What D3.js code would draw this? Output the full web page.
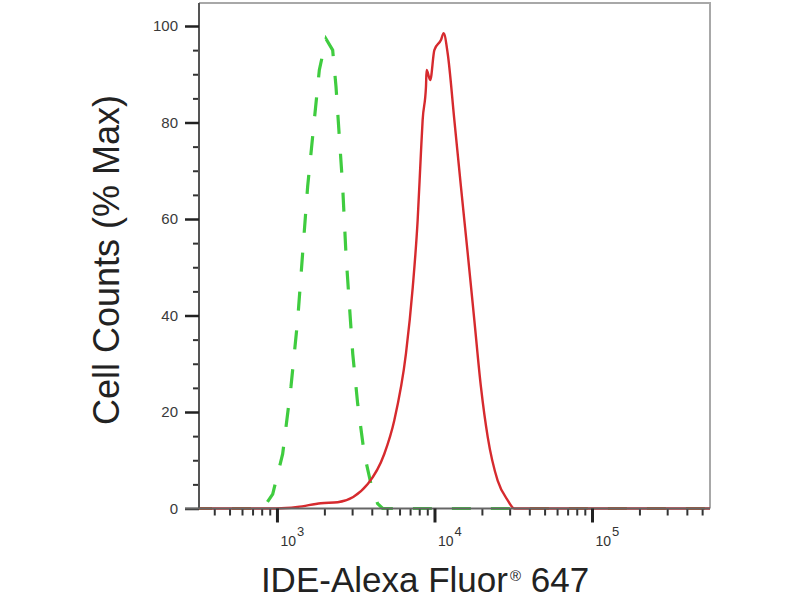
<!DOCTYPE html>
<html>
<head>
<meta charset="utf-8">
<script src="https://cdn.jsdelivr.net/npm/d3@7"></script>
<style>
  body { margin: 0; background: #fff; }
  svg { display: block; font-family: "Liberation Sans", Arial, sans-serif; }
</style>
</head>
<body>
<div id="chart"></div>
<script>
// ——— DATA —————————————————————————————————————————————————————————
// stained sample (solid red): fluorescence intensity vs % of max
const redIntensity = [320, 1000, 1350, 1900, 2430, 3770, 4800, 5560, 6590, 7280, 7820, 8200, 8410, 8830, 8910, 9400, 9980, 10990, 11430, 12130, 13370, 14720, 16260, 17910, 19720, 21780, 25180, 29170, 32140, 561000];
const redPercent   = [0, 0, 0.3, 1.1, 1.3, 5.1, 11.3, 18.3, 32.1, 45.9, 59.8, 73.6, 80.5, 87.4, 90.9, 88.8, 95.0, 97.1, 98.5, 94.3, 80.5, 66.7, 52.8, 39.0, 25.2, 14.8, 5.8, 1.7, 0, 0];

// isotype control (dashed green)
const greenIntensity = [320, 815, 940, 1087, 1227, 1353, 1455, 1566, 1726, 1858, 2050, 2258, 2371, 2489, 2613, 2742, 2878, 3027, 3254, 3583, 3951, 4355, 4688, 561000];
const greenPercent   = [0, 0, 3.0, 11.3, 25.2, 39.0, 52.8, 66.7, 80.5, 90.9, 97.3, 95.0, 87.4, 77.0, 66.7, 52.8, 42.5, 32.1, 21.7, 11.3, 5.1, 1.0, 0, 0];

const xDomain = [320, 561000];
const yDomain = [0, 100];
const yMajorTicks = [0, 20, 40, 60, 80, 100];
const yMinorTicks = d3.range(5, 101, 5).filter(v => v % 20 !== 0);
const xMajorTicks = [1e3, 1e4, 1e5];
const xMinorTicks = [1e2, 1e3, 1e4, 1e5].flatMap(d => d3.range(2, 10).map(k => k * d));

const yTitle = "Cell Counts (% Max)";
const xTitle = "IDE-Alexa Fluor";
const xTitleMark = "®";
const xTitleEnd = " 647";

// ——— LAYOUT ———————————————————————————————————————————————————————
const width = 800;
const height = 600;
const plotLeft = 199, plotRight = 710, plotTop = 3, plotBottom = 508.5;

const svg = d3.select("#chart").append("svg")
    .attr("width", width)
    .attr("height", height);

// ——— SCALES ————————————————————————————————————————————————————————
const xScale = d3.scaleLog().domain(xDomain).range([plotLeft, plotRight]);
const yScale = d3.scaleLinear().domain(yDomain).range([plotBottom, 26]);

// ——— FRAME ————————————————————————————————————————————————————————
svg.append("path")
    .attr("d", `M${plotLeft},${plotTop}H${plotRight}V${plotBottom}`)
    .attr("fill", "none")
    .attr("stroke", "#a8a8a8")
    .attr("stroke-width", 2);

svg.append("defs").append("clipPath").attr("id", "plot")
    .append("rect")
    .attr("x", plotLeft).attr("y", plotTop)
    .attr("width", plotRight - plotLeft).attr("height", plotBottom - plotTop + 2);

// ——— LINES —————————————————————————————————————————————————————————
// green control keeps a pointed peak, red sample is smoothed
const greenLine = d3.line()
    .x(d => xScale(d[0]))
    .y(d => yScale(d[1]));

const redLine = d3.line()
    .x(d => xScale(d[0]))
    .y(d => yScale(d[1]))
    .curve(d3.curveMonotoneX);

const plot = svg.append("g").attr("clip-path", "url(#plot)");

plot.append("path")
    .datum(d3.zip(greenIntensity, greenPercent))
    .attr("d", greenLine)
    .attr("fill", "none")
    .attr("stroke", "#3fcc3f")
    .attr("stroke-width", 3.2)
    .attr("stroke-dasharray", "19 20")
    .attr("stroke-dashoffset", 6);

plot.append("path")
    .datum(d3.zip(redIntensity, redPercent))
    .attr("d", redLine)
    .attr("fill", "none")
    .attr("stroke", "#d62a2e")
    .attr("stroke-width", 2.4)
    .attr("stroke-linejoin", "round");

// ——— AXES ——————————————————————————————————————————————————————————
// y minor ticks
svg.append("g")
    .attr("transform", `translate(${plotLeft},0)`)
    .call(d3.axisLeft(yScale).tickValues(yMinorTicks).tickSize(6).tickFormat(""))
    .call(g => g.select(".domain").remove())
    .call(g => g.selectAll("line").attr("stroke", "#333").attr("stroke-width", 2));

// y major ticks + labels
svg.append("g")
    .attr("transform", `translate(${plotLeft},0)`)
    .call(d3.axisLeft(yScale).tickValues(yMajorTicks).tickSize(14).tickPadding(7).tickSizeOuter(0))
    .call(g => g.select(".domain").attr("d", `M0,${plotTop}V${plotBottom}`).attr("stroke", "#555").attr("stroke-width", 2))
    .call(g => g.selectAll("line").attr("stroke", "#222").attr("stroke-width", 2.5))
    .call(g => g.selectAll("text")
        .attr("font-family", "Liberation Sans, Arial, sans-serif")
        .attr("font-size", 15)
        .attr("fill", "#3a3a3a"));

// x minor ticks
svg.append("g")
    .attr("transform", `translate(0,${plotBottom})`)
    .call(d3.axisBottom(xScale)
        .tickValues(xMinorTicks.filter(v => v > xDomain[0] && v < xDomain[1]))
        .tickSize(7).tickFormat(""))
    .call(g => g.select(".domain").remove())
    .call(g => g.selectAll("line").attr("stroke", "#333").attr("stroke-width", 2));

// x major ticks + 10^n labels
const xAxisG = svg.append("g")
    .attr("transform", `translate(0,${plotBottom})`)
    .call(d3.axisBottom(xScale).tickValues(xMajorTicks).tickSize(14).tickSizeOuter(0).tickFormat(""))
    .call(g => g.select(".domain").attr("d", `M185,0H${plotRight}`).attr("stroke", "#666").attr("stroke-width", 2))
    .call(g => g.selectAll("line").attr("stroke", "#222").attr("stroke-width", 3));

xAxisG.selectAll(".tick").append("text")
    .attr("x", 3)
    .attr("y", 37)
    .attr("text-anchor", "start")
    .attr("font-family", "Liberation Sans, Arial, sans-serif")
    .attr("font-size", 14)
    .attr("fill", "#333")
    .text("10")
    .append("tspan")
    .attr("dy", -10)
    .attr("dx", 1)
    .attr("font-size", 13)
    .text(d => Math.round(Math.log10(d)));

// ——— TITLES ————————————————————————————————————————————————————————
svg.append("text")
    .attr("transform", `translate(119,260) rotate(-90)`)
    .attr("text-anchor", "middle")
    .attr("font-size", 36)
    .attr("fill", "#222")
    .text(yTitle);

const xt = svg.append("text")
    .attr("x", 425)
    .attr("y", 592)
    .attr("text-anchor", "middle")
    .attr("font-size", 35)
    .attr("fill", "#222");
xt.append("tspan").text(xTitle);
xt.append("tspan").attr("font-size", 15).attr("dy", -11).attr("dx", 2).text(xTitleMark);
xt.append("tspan").attr("dy", 11).text(xTitleEnd);
</script>
</body>
</html>
